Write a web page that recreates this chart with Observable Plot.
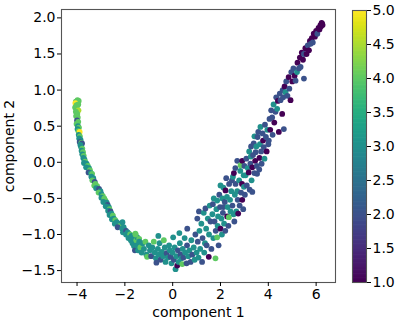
<!DOCTYPE html>
<html><head><meta charset="utf-8">
<script src="https://cdn.jsdelivr.net/npm/d3@7"></script>
<script src="https://cdn.jsdelivr.net/npm/@observablehq/plot@0.6"></script>
<style>
html,body{margin:0;padding:0;background:#fff;}
#wrap{position:relative;width:398px;height:322px;overflow:hidden;font-family:"DejaVu Sans",sans-serif;}
#main{position:absolute;left:0;top:0;}
#cbar{position:absolute;left:340px;top:0;}
</style></head><body>
<div id="wrap"><div id="main"></div><div id="cbar"></div></div>
<script>
// component 1 (x) values, grouped along the curve
const comp1 = [
  // left arm, top
  -4.05,-3.98,-3.93,-4.07,-4.02, -3.95,-4.08,-4.00,-3.94,-4.05, -3.99,-4.04,-3.97,-4.00,-3.95, -4.02,-3.96,-3.92,-3.98,-3.94,
  -3.89,-3.93,-3.88,-3.91,-3.85, -3.89,-3.82,-3.79,-3.86,-3.83, -3.78,-3.81,-3.75,-3.78,-3.72, -3.74,-3.69,-3.66,-3.71,
  // left arm, middle
  -3.60,-3.55,-3.62,-3.50,-3.46, -3.52,-3.42,-3.37,-3.40,-3.32, -3.36,-3.26,-3.23,-3.28,-3.16, -3.20,-3.08,-3.02,-3.10,-2.98, -2.92,-2.98,
  -2.86,-2.81,-2.90,-2.76,-2.72, -2.80,-2.67,-2.64,-2.70,-2.60, -2.56,-2.64,-2.50,-2.46,-2.54, -2.40,-2.34,-2.42,-2.25,-2.20, -2.30,-2.11,
  -2.05,-2.00,-2.08,-1.95,-1.88, -1.95,-1.84,-1.78,-1.85,-1.72, -1.66,-1.75,-1.60,-2.10,-1.56, -1.68,-1.52,-1.62,-1.48,-1.44, -1.40,-1.58,-1.36,
  // bottom
  -1.55,-1.50,-1.45,-1.40,-1.35, -1.30,-1.25,-1.20,-1.14,-1.10, -1.07,-1.00,-0.95,-0.90,-0.85, -0.79,-0.75,-0.70,-0.68,-0.62,
  -0.60,-0.58,-0.55,-0.50,-0.45, -0.40,-0.37,-0.33,-0.30,-0.25, -0.20,-0.15,-0.12,-0.09,-0.05, 0.00,0.02,0.05,0.08,0.12,
  0.15,0.19,0.22,0.25,0.28, 0.30,0.33,0.36,0.40,0.42, 0.45,0.50,0.52,0.58,0.60, 0.61,0.65,0.70,0.75,0.78, 0.82,0.88,0.92,0.95,1.00,
  // right arm, lower
  1.03,1.05,1.08,1.10,1.12, 1.15,1.20,1.23,1.25,1.30, 1.32,1.35,1.37,1.40,1.42, 1.47,1.51,1.52,1.55,1.58,
  1.62,1.66,1.68,1.70,1.72, 1.75,1.79,1.80,1.83,1.86, 1.86,1.88,1.90,1.92,1.95, 1.98,2.00,2.00,2.04,2.06,
  2.08,2.12,2.10,2.12,2.15, 2.18,2.20,2.21,2.24,2.27, 2.28,2.30,2.33,2.35,2.36, 2.40,2.42,2.45,2.48,
  2.50,2.52,2.55,2.56,2.58, 2.60,2.62,2.63,2.66,2.70, 2.70,2.72,2.74,2.78,2.80, 2.83,2.84,2.86,2.90,2.91, 2.91,2.95,2.97,2.98,3.00,
  3.02,3.05,3.08,3.10,3.14, 3.18,3.20,3.22,3.25,3.27, 3.28,3.30,3.33,3.33,3.36, 3.39,3.42,3.42,3.45,3.47, 3.50,
  // right arm, middle
  3.52,3.53,3.55,3.58,3.62, 3.63,3.65,3.67,3.70,3.72, 3.76,3.78,3.81,3.84,3.86, 3.90,3.93,3.96,4.00,
  4.02,4.05,4.08,4.12,4.16, 4.18,4.22,4.25,4.30,4.33, 4.37,4.40,4.44,4.48,4.51, 4.58,4.60,4.65,
  // right arm, upper
  4.62,4.68,4.72,4.75,4.80, 4.85,4.88,4.93,4.96,5.00, 5.05,5.10,5.14,5.20,
  5.22,5.28,5.32,5.35,5.40, 5.45,5.49,5.49,5.55,5.60, 5.65,5.70,5.74,5.77,
  5.82,5.86,5.90,5.95,6.00, 6.05,6.10,6.14,6.18,6.20, 6.23,6.25,6.27
];
// component 2 (y) values
const comp2 = [
  0.84,0.86,0.85,0.82,0.79, 0.80,0.76,0.74,0.72,0.70, 0.67,0.64,0.62,0.58,0.56, 0.53,0.50,0.48,0.46,0.43,
  0.42,0.38,0.36,0.33,0.31, 0.28,0.27,0.26,0.24,0.21, 0.19,0.16,0.14,0.11,0.09, 0.06,0.04,0.01,-0.01,
  -0.02,-0.05,-0.07,-0.08,-0.11, -0.14,-0.15,-0.16,-0.20,-0.22, -0.25,-0.27,-0.30,-0.32,-0.33, -0.36,-0.37,-0.40,-0.42,-0.44, -0.47,-0.49,
  -0.50,-0.53,-0.55,-0.56,-0.59, -0.61,-0.62,-0.65,-0.67,-0.68, -0.71,-0.73,-0.74,-0.78,-0.79, -0.80,-0.83,-0.85,-0.85,-0.88, -0.90,-0.92,
  -0.90,-0.94,-0.97,-0.95,-0.97, -1.00,-0.99,-1.00,-1.05,-1.02, -1.03,-1.08,-1.05,-0.83,-0.99, -1.12,-1.08,-1.16,-1.04,-1.12, -1.06,-1.22,-1.15,
  -1.00,-1.15,-1.22,-1.10,-1.18, -1.25,-1.12,-1.20,-1.10,-1.28, -1.31,-1.15,-1.22,-1.30,-1.18, -1.10,-1.25,-1.33,-1.39,-1.20,
  -1.02,-1.28,-1.12,-1.35,-1.24, -1.30,-1.08,-1.18,-1.38,-1.26, -1.32,-1.15,-1.22,-1.31,-1.40, -1.25,-1.04,-1.35,-1.18,-1.48,
  -1.30,-1.43,-1.22,-1.38,-0.98, -1.12,-1.28,-1.33,-1.41,-1.20, -1.32,-1.05,-1.25,-1.40,-1.15, -0.92,-1.30,-1.22,-1.38,-1.08, -1.28,-1.18,-1.35,-1.00,-1.25,
  -0.78,-1.10,-1.32,-0.68,-0.95, -1.20,-0.85,-1.38,-1.05,-0.70, -1.25,-1.12,-0.64,-0.92,-1.15, -0.78,-1.31,-1.00,-0.60,-0.82,
  -1.20,-0.72,-0.58,-1.05,-0.50, -0.82,-1.33,-0.95,-0.65,-0.53, -1.04,-0.88,-0.75,-1.15,-0.45, -0.62,-0.92,-0.32,-0.78,-1.00,
  -0.50,-0.62,-0.70,-0.35,-0.85, -0.55,-0.95,-0.39,-0.22,-0.48, -0.75,-0.62,-0.88,-0.76,-0.30, -0.52,-0.68,-0.40,-0.25,
  -0.60,-0.20,-0.72,-0.15,-0.82, -0.45,-0.08,-0.30,-0.68,0.02, -0.40,-0.52,-0.71,-0.25,-0.60, -0.12,-0.04,-0.42,-0.30,-0.52, 0.02,-0.65,-0.18,-0.34,-0.05,
  -0.45,-0.18,0.05,-0.32,-0.08, -0.14,0.15,-0.38,-0.02,0.08, 0.22,-0.25,-0.07,-0.41,0.10, 0.26,0.36,-0.15,0.02,0.14, 0.22,
  -0.05,-0.16,0.35,0.42,-0.10, 0.06,0.25,0.49,0.15,-0.02, 0.40,0.30,0.21,0.05,0.52, 0.35,0.15,0.45,0.25,
  0.30,0.60,0.45,0.72,0.62, 0.38,0.80,0.55,0.70,0.90, 0.74,0.85,0.42,0.95,0.86, 0.67,1.00,0.46,
  0.90,1.05,0.97,1.12,0.92, 1.18,1.02,0.86,1.25,1.12, 1.30,1.20,1.13,1.25,
  1.38,1.30,1.45,1.32,1.52, 1.42,1.16,1.50,1.58,1.50, 1.62,1.55,1.68,1.64,
  1.72,1.66,1.78,1.74,1.82, 1.78,1.86,1.84,1.90,1.88, 1.93,1.92,1.90
];
// rating shown by colour
const rating = [
  4,4,4,5,4, 4,4,4,4.5,4, 4,4,4,2,4, 4,3,4,3,4,
  5,3,4,3,3, 2,4,2,3,3, 4,3,4,3,4, 3,3,4,3,
  3,4,3,3,4, 2,3,4,3,3, 4,2,4,4,4, 3,2,3,4,3, 4,3,
  4,4,3,3,2, 3,3,4,3,2, 3,3,4,3,3, 4,3,3,3,4, 2,3,
  3,3,3,2,3, 3,3,4,3,3, 3,3,3,3,4, 3,4,3,3,4, 4,2,3,
  4,3,3,3,4, 3,3,3,4,3, 4,3,3,2,3, 4,3,3,2,3,
  3,3,3,2,3, 3,4,3,3,2, 3,3,3,2,3, 3,3,2,3,3,
  3,1,2,3,3, 3,2,3,4,3, 2,3,3,2,2, 2,3,3,2,3, 2,3,3,2,3,
  2,2,3,2,3, 3,3,2,2,3, 3,3,2,3,2, 3,1,3,3,2,
  2,3,2,3,3, 2,4,2,3,3, 4,3,3,2,2, 2,1,3,3,3,
  3,2,2,3,3, 2,2,1,2,3, 1,3,2,4,2, 3,3,3,2,
  2,3,3,1,2, 3,2,2,3,2, 3,2,1,3,2, 3,4,2,1,1, 1,2,3,3,2,
  2,3,2,2,3, 1,3,2,2,3, 2,3,1,2,2, 2,3,2,1,2, 3,
  2,2,2,2,2, 1,3,3,2,2, 2,1,2,3,2, 2,1,3,2,
  2,2,1,2,2, 2,3,1,2,2, 3,1,1,2,2, 1,2,2,
  2,1,3,2,2, 1,2,1,2,1, 2,1,2,3,
  1,2,1,2,1, 1,2,2,1,1, 2,1,1,2,
  1,2,1,1,1, 2,1,1,1,1, 1,1,1
];
const xTicks = [-4, -2, 0, 2, 4, 6];
const yTicks = [-1.5, -1.0, -0.5, 0.0, 0.5, 1.0, 1.5, 2.0];
const colorTicks = [1.0, 1.5, 2.0, 2.5, 3.0, 3.5, 4.0, 4.5, 5.0];
const colorDomain = [1, 5];
const xDomain = [-4.65, 6.81];
const yDomain = [-1.665, 2.116];
const xLabel = "component 1";
const yLabel = "component 2";

const points = comp1.map((x, i) => ({x, y: comp2[i], v: rating[i]}));
const font = {fontFamily: "'DejaVu Sans', sans-serif", fontSize: "14px", color: "#000", background: "#fff", overflow: "visible"};

const main = Plot.plot({
  width: 345, height: 322,
  marginLeft: 61, marginRight: 10, marginTop: 9, marginBottom: 40,
  style: font,
  x: {domain: xDomain},
  y: {domain: yDomain},
  color: {type: "linear", scheme: "viridis", domain: colorDomain},
  marks: [
    Plot.dot(points, {x: "x", y: "y", fill: "v", r: 2.9, stroke: null}),
    Plot.frame({stroke: "#555", strokeWidth: 1.1}),
    Plot.axisX({ticks: xTicks, tickFormat: d3.format("d"), tickSize: 4, tickPadding: 3, fontSize: 14,
      label: xLabel, labelAnchor: "center", labelArrow: "none", labelOffset: 34}),
    Plot.axisY({ticks: yTicks, tickFormat: d3.format(".1f"), tickSize: 4, tickPadding: 2, fontSize: 14,
      label: yLabel, labelAnchor: "center", labelArrow: "none", labelOffset: 57})
  ]
});
document.getElementById("main").appendChild(main);

const steps = d3.range(colorDomain[0], colorDomain[1], 0.02);
const bar = Plot.plot({
  width: 58, height: 322,
  marginLeft: 12, marginRight: 32, marginTop: 10, marginBottom: 40,
  style: font,
  x: {domain: [0, 1], axis: null},
  y: {domain: colorDomain},
  color: {type: "linear", scheme: "viridis", domain: colorDomain},
  marks: [
    Plot.rect(steps, {x1: 0, x2: 1, y1: d => d, y2: d => Math.min(colorDomain[1], d + 0.03), fill: d => d + 0.01}),
    Plot.frame({stroke: "#555", strokeWidth: 1.1}),
    Plot.axisY({anchor: "right", ticks: colorTicks, tickFormat: d3.format(".1f"), tickSize: 4, tickPadding: 2, fontSize: 14, label: null})
  ]
});
document.getElementById("cbar").appendChild(bar);
</script>
</body></html>
